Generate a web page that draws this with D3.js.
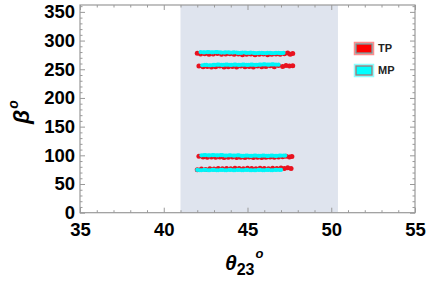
<!DOCTYPE html>
<html lang="en">
	<head>
		<meta charset="UTF-8">
		<title>beta vs theta23</title>
		<script src="https://cdn.jsdelivr.net/npm/d3@7"></script>
		<style>
			body { margin: 0; background: #fff; }
			text { font-family: "Liberation Sans", Arial, sans-serif; }
		</style>
	</head>
	<body>
		<div id="chart"></div>
		<script>
			// theta23 (deg), beta (deg), band by band
			const tpBandA = [[42.0,278],[42.2,276.5],[42.45,277],[42.7,276],[42.95,276.5],[43.2,277.5],[43.45,276],[43.7,276.5],[43.95,277],[44.2,276],[44.45,276.5],[44.7,275.5],[44.95,276],[45.2,276.5],[45.45,275.5],[45.7,276],[45.95,276.5],[46.2,275.5],[46.45,276],[46.7,276.5],[46.95,276],[47.2,277],[47.4,278.5],[47.55,276],[47.7,277.5]];
			const tpBandB = [[42.1,255.5],[42.35,254.5],[42.6,255],[42.85,254],[43.1,254.5],[43.35,255.5],[43.6,254],[43.85,254.5],[44.1,255],[44.35,254],[44.6,255.5],[44.85,254.5],[45.1,255],[45.35,254],[45.6,255.5],[45.85,254.5],[46.1,255],[46.35,256],[46.6,254.5],[46.85,256.5],[47.1,255],[47.3,256.5],[47.5,255.5],[47.7,256]];
			const tpBandC = [[42.1,98.5],[42.35,97],[42.6,96.5],[42.85,97],[43.1,96.5],[43.35,97],[43.6,96],[43.85,96.5],[44.1,97],[44.35,96],[44.6,96.5],[44.85,96],[45.1,97],[45.35,96],[45.6,96.5],[45.85,96],[46.1,96.5],[46.35,97],[46.6,96.5],[46.85,97],[47.1,97.5],[47.3,98.5],[47.5,97],[47.65,98]];
			const tpBandD = [[42.0,75],[42.25,76],[42.5,75.5],[42.75,76.5],[43.0,76],[43.25,77],[43.5,76.5],[43.75,77],[44.0,76.5],[44.25,77.5],[44.5,77],[44.75,76.5],[45.0,77.5],[45.25,77],[45.5,76.5],[45.75,77.5],[46.0,77],[46.25,76.5],[46.5,77.5],[46.75,77],[47.0,78],[47.2,77],[47.4,78.5],[47.6,77]];

			const mpBandA = [[42.2,280],[42.35,279.5],[42.45,279.5],[42.6,280],[42.7,280],[42.85,279.5],[42.95,279.5],[43.1,280],[43.2,280],[43.35,279.5],[43.45,279],[43.6,279],[43.7,279.5],[43.85,279.5],[43.95,279],[44.1,279],[44.2,279.5],[44.35,279],[44.45,278.5],[44.6,278.5],[44.7,279],[44.85,279],[44.95,278.5],[45.1,278.5],[45.2,279],[45.35,278.5],[45.45,278],[45.6,278],[45.7,278.5],[45.85,278.5],[45.95,278],[46.1,278],[46.2,278.5],[46.35,278.5],[46.45,278],[46.6,278],[46.7,278.5],[46.85,278.5],[46.95,278],[47.05,278],[47.15,278.5]];
			const mpBandB = [[42.3,257],[42.45,257.5],[42.55,257.5],[42.7,257],[42.8,257],[42.95,257.5],[43.05,257.5],[43.2,258],[43.3,258],[43.45,257.5],[43.55,257.5],[43.7,258],[43.8,258],[43.95,257.5],[44.05,257.5],[44.2,258],[44.3,258],[44.45,257.5],[44.55,257.5],[44.7,258],[44.8,258],[44.95,257.5],[45.05,257.5],[45.2,258],[45.3,258],[45.45,257.5],[45.55,257.5],[45.7,258],[45.8,258],[45.95,258.5],[46.05,258.5],[46.2,258],[46.3,258],[46.45,258.5],[46.55,258.5],[46.7,258],[46.85,258]];
			const mpBandC = [[42.25,100],[42.4,100.5],[42.5,100.5],[42.65,100],[42.75,100],[42.9,100.5],[43.0,100.5],[43.15,100],[43.25,100],[43.4,100.5],[43.5,100.5],[43.65,99.5],[43.75,99.5],[43.9,100],[44.0,100],[44.15,99.5],[44.25,99.5],[44.4,100],[44.5,100],[44.65,99],[44.75,99],[44.9,99.5],[45.0,99.5],[45.15,99],[45.25,99],[45.4,99.5],[45.5,99.5],[45.65,99],[45.75,99],[45.9,99.5],[46.0,99.5],[46.15,99],[46.25,99],[46.4,99.5],[46.5,99.5],[46.65,99],[46.75,99],[46.9,99.5],[47.0,99.5],[47.15,99.5],[47.25,99.5]];
			const mpBandD = [[42.0,74.5],[42.15,74],[42.25,74],[42.4,74.5],[42.5,74.5],[42.65,74],[42.75,74],[42.9,74.5],[43.0,74.5],[43.15,74],[43.25,74],[43.4,74.5],[43.5,74.5],[43.65,74],[43.75,74],[43.9,74.5],[44.0,74.5],[44.15,74],[44.25,74],[44.4,74.5],[44.5,74.5],[44.65,74],[44.75,74],[44.9,74.5],[45.0,74.5],[45.15,74],[45.25,74],[45.4,74],[45.5,74],[45.65,74.5],[45.75,74.5],[45.9,74],[46.0,74],[46.15,74.5],[46.25,74.5],[46.4,74],[46.5,74],[46.65,74.5],[46.75,74.5],[46.9,74.5],[47.0,74.5]];

			const shadedRange = [41.0, 50.4];
			const xTicks = [35, 40, 45, 50, 55];
			const yTicks = [0, 50, 100, 150, 200, 250, 300, 350];
			const legendNames = ["TP", "MP"];
			const legendColors = ["#ff0000", "#00ffff"];

			const w = 429;
			const h = 284;
			const plot = {left: 80, right: 415, top: 5, bottom: 212.7};
			const frameColor = "#999";

			const svg = d3.select("#chart")
						  .append("svg")
						  .attr("width", w)
						  .attr("height", h);

			const xScale = d3.scaleLinear()
							 .domain([35, 55])
							 .range([plot.left, plot.right]);

			const yScale = d3.scaleLinear()
							 .domain([0, 362])
							 .range([plot.bottom, plot.top]);

			// shaded theta23 band
			svg.append("rect")
			   .attr("x", xScale(shadedRange[0]))
			   .attr("y", plot.top)
			   .attr("width", xScale(shadedRange[1]) - xScale(shadedRange[0]))
			   .attr("height", plot.bottom - plot.top)
			   .attr("fill", "#dfe4ee");

			const drawBand = (data, color, r) => {
				svg.append("g")
				   .selectAll("circle")
				   .data(data)
				   .enter()
				   .append("circle")
				   .attr("cx", d => xScale(d[0]))
				   .attr("cy", d => yScale(d[1]))
				   .attr("r", r)
				   .attr("fill", color);
			};

			[tpBandA, tpBandB, tpBandC, tpBandD].forEach(b => drawBand(b, "#e8121f", 2.5));
			[mpBandA, mpBandB, mpBandC, mpBandD].forEach(b => drawBand(b, "#00f5f8", 2.1));

			// frame ticks, pointing inward
			const minorX = d3.range(35, 56, 1).filter(v => v % 5 !== 0);
			const minorY = d3.range(0, 361, 10).filter(v => v % 50 !== 0);

			const styleAxis = g => {
				g.select(".domain").remove();
				g.selectAll("line").attr("stroke", frameColor);
				g.selectAll("text")
				 .attr("fill", "#000")
				 .attr("font-size", 18.5)
				 .attr("font-weight", "bold")
				 .attr("font-family", "Liberation Sans, Arial, sans-serif");
			};

			svg.append("g")
			   .attr("transform", `translate(0, ${plot.bottom})`)
			   .call(d3.axisBottom(xScale).tickValues(xTicks).tickSize(-5).tickPadding(10))
			   .call(styleAxis);
			svg.append("g")
			   .attr("transform", `translate(0, ${plot.bottom})`)
			   .call(d3.axisBottom(xScale).tickValues(minorX).tickSize(-2.5).tickFormat(""))
			   .call(styleAxis);
			svg.append("g")
			   .attr("transform", `translate(0, ${plot.top})`)
			   .call(d3.axisTop(xScale).tickValues(xTicks).tickSize(-5).tickFormat(""))
			   .call(styleAxis);
			svg.append("g")
			   .attr("transform", `translate(0, ${plot.top})`)
			   .call(d3.axisTop(xScale).tickValues(minorX).tickSize(-2.5).tickFormat(""))
			   .call(styleAxis);

			svg.append("g")
			   .attr("transform", `translate(${plot.left}, 0)`)
			   .call(d3.axisLeft(yScale).tickValues(yTicks).tickSize(-5).tickPadding(5))
			   .call(styleAxis);
			svg.append("g")
			   .attr("transform", `translate(${plot.left}, 0)`)
			   .call(d3.axisLeft(yScale).tickValues(minorY).tickSize(-2.5).tickFormat(""))
			   .call(styleAxis);
			svg.append("g")
			   .attr("transform", `translate(${plot.right}, 0)`)
			   .call(d3.axisRight(yScale).tickValues(yTicks).tickSize(-5).tickFormat(""))
			   .call(styleAxis);
			svg.append("g")
			   .attr("transform", `translate(${plot.right}, 0)`)
			   .call(d3.axisRight(yScale).tickValues(minorY).tickSize(-2.5).tickFormat(""))
			   .call(styleAxis);

			svg.append("rect")
			   .attr("x", plot.left)
			   .attr("y", plot.top)
			   .attr("width", plot.right - plot.left)
			   .attr("height", plot.bottom - plot.top)
			   .attr("fill", "none")
			   .attr("stroke", frameColor)
			   .attr("stroke-width", 1.2);

			// axis titles
			const xTitle = svg.append("text")
							  .attr("x", 225)
							  .attr("y", 270)
							  .attr("font-weight", "bold");
			xTitle.append("tspan").text("θ").attr("font-size", 21).attr("font-style", "italic");
			xTitle.append("tspan").text("23").attr("font-size", 16).attr("dy", 5);
			xTitle.append("tspan").text("o").attr("font-size", 13).attr("font-style", "italic").attr("dy", -17).attr("dx", 1);

			const yTitle = svg.append("text")
							  .attr("transform", "translate(29, 124) rotate(-90)")
							  .attr("font-weight", "bold");
			yTitle.append("tspan").text("β").attr("font-size", 23).attr("font-style", "italic");
			yTitle.append("tspan").text("o").attr("font-size", 14).attr("font-style", "italic").attr("dy", -11).attr("dx", 1);

			// legend
			const legend = svg.append("g")
							  .selectAll("g")
							  .data(legendNames)
							  .enter()
							  .append("g")
							  .attr("transform", (d, i) => `translate(356, ${44 + i * 22})`);
			legend.append("rect")
				  .attr("x", -1.5).attr("y", -1.5)
				  .attr("width", 19).attr("height", 12)
				  .attr("fill", "none")
				  .attr("stroke", (d, i) => legendColors[i])
				  .attr("stroke-opacity", 0.45)
				  .attr("stroke-width", 1.5);
			legend.append("rect")
				  .attr("width", 16).attr("height", 9)
				  .attr("fill", (d, i) => legendColors[i])
				  .attr("stroke", "#888")
				  .attr("stroke-width", 1.5);
			legend.append("text")
				  .attr("x", 22)
				  .attr("y", 4.5)
				  .attr("dy", "0.35em")
				  .attr("font-size", 11)
				  .attr("font-weight", "bold")
				  .attr("fill", "#222")
				  .text(d => d);
		</script>
	</body>
</html>
